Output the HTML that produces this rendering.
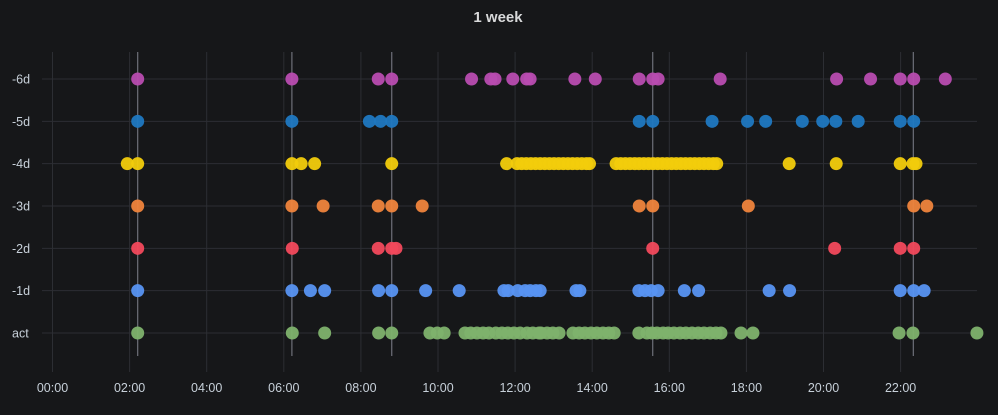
<!DOCTYPE html>
<html><head><meta charset="utf-8"><style>
html,body{margin:0;padding:0;background:#161719;}
svg{display:block;font-family:"Liberation Sans",sans-serif;}
</style></head><body>
<svg id="chart" width="998" height="415">
<rect x="0" y="0" width="998" height="415" fill="#161719"/>
<text x="498" y="22" text-anchor="middle" fill="#d8d9da" font-size="15" font-weight="bold">1 week</text>
<g id="grid"></g><g id="annot"></g><g id="dots"></g><g id="labels"></g>
</svg>
<script>
const seriesNames = ['-6d','-5d','-4d','-3d','-2d','-1d','act'];
const seriesColors = ['#b84cb0','#1f78c1','#f2cc0c','#ef843c','#f2495c','#5794f2','#7eb26d'];
const xTicks = [0,2,4,6,8,10,12,14,16,18,20,22];
const xTickLabels = ['00:00','02:00','04:00','06:00','08:00','10:00','12:00','14:00','16:00','18:00','20:00','22:00'];
const annotations = [2.21,6.21,8.80,15.57,22.33];
const s6d = [2.21,6.21,8.45,8.80,10.87,11.37,11.48,11.94,12.30,12.39,13.55,14.08,15.22,15.57,15.71,17.32,20.34,21.22,21.99,22.34,23.16];
const s5d = [2.21,6.21,8.22,8.51,8.80,15.22,15.57,17.11,18.03,18.50,19.45,19.98,20.32,20.90,21.99,22.34];
const s4d = [1.94,2.21,6.21,6.45,6.80,8.80,11.78,12.05,12.17,12.29,12.41,12.53,12.65,12.77,12.89,13.01,13.13,13.25,13.37,13.49,13.61,13.73,13.85,13.93,14.62,14.74,14.86,14.98,15.10,15.22,15.34,15.46,15.58,15.70,15.82,15.94,16.06,16.18,16.30,16.42,16.54,16.66,16.78,16.90,17.02,17.14,17.23,19.11,20.33,21.99,22.32,22.40];
const s3d = [2.21,6.21,7.02,8.45,8.80,9.59,15.22,15.57,18.05,22.34,22.68];
const s2d = [2.21,6.22,8.45,8.80,8.91,15.57,20.29,21.99,22.34];
const s1d = [2.21,6.21,6.69,7.06,8.46,8.80,9.68,10.55,11.71,11.82,12.07,12.26,12.39,12.54,12.65,13.58,13.68,15.21,15.37,15.53,15.71,16.39,16.76,18.59,19.12,21.99,22.34,22.61];
const sAct = [2.21,6.22,7.06,8.46,8.80,9.79,9.98,10.16,10.70,10.85,11.01,11.17,11.32,11.50,11.66,11.81,11.97,12.13,12.31,12.46,12.62,12.67,12.83,12.98,13.14,13.50,13.66,13.81,13.97,14.12,14.28,14.43,14.57,15.21,15.42,15.55,15.68,15.84,15.97,16.12,16.28,16.43,16.59,16.75,16.90,17.06,17.21,17.34,17.86,18.17,21.96,22.32,23.98];
const seriesData = [s6d,s5d,s4d,s3d,s2d,s1d,sAct];

const NS='http://www.w3.org/2000/svg';
const X0=52.5, PXH=38.55, Y0=79, DY=42.33;
const xScale = h => X0 + h*PXH;
const yScale = i => Y0 + i*DY;
function mk(tag, attrs, parent){const e=document.createElementNS(NS,tag);for(const k in attrs)e.setAttribute(k,attrs[k]);parent.appendChild(e);return e;}
const grid=document.getElementById('grid'), annot=document.getElementById('annot'), dots=document.getElementById('dots'), labels=document.getElementById('labels');
xTicks.forEach((t,i)=>{
  const l=mk('line',{x1:xScale(t),x2:xScale(t),y1:52,y2:372,stroke:'#2c2e33','stroke-width':1},grid);
  
  
  const tx=mk('text',{x:xScale(t),y:392,'text-anchor':'middle',fill:'#c7d0d9','font-size':12.5},labels);
  tx.textContent=xTickLabels[i];
  
  
});
seriesNames.forEach((n,i)=>{
  const l=mk('line',{x1:42,x2:977,y1:yScale(i),y2:yScale(i),stroke:'#2c2e33','stroke-width':1},grid);
  
  
  const tx=mk('text',{x:12,y:yScale(i)+4.5,fill:'#c7d0d9','font-size':12.5},labels);
  tx.textContent=n;
  
  
});
annotations.forEach(a=>{
  const l=mk('line',{x1:xScale(a),x2:xScale(a),y1:52,y2:356,stroke:'#6e7079','stroke-width':1.2},annot);
  
  
});
seriesData.forEach((arr,i)=>{
  arr.forEach(h=>{
    const c=mk('circle',{cx:xScale(h),cy:yScale(i),r:6.5,fill:seriesColors[i],'fill-opacity':0.95},dots);
    
    
  });
});
</script>
</body></html>
